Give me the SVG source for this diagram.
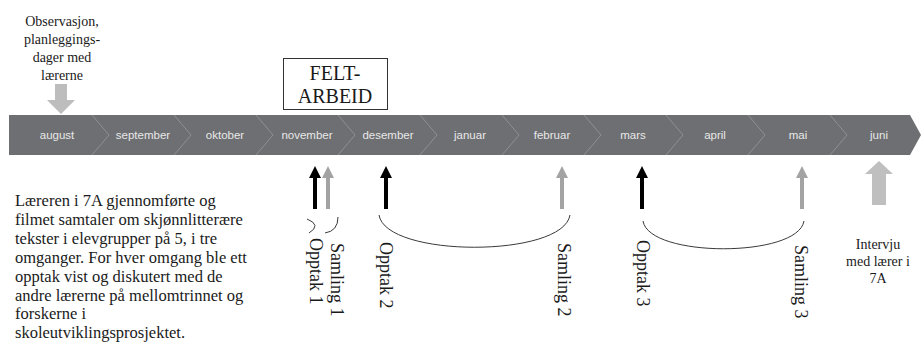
<svg xmlns="http://www.w3.org/2000/svg" xmlns:xlink="http://www.w3.org/1999/xlink" width="921" height="344" viewBox="0 0 921 344">
<style>
.serif{font-family:"Liberation Serif","Times New Roman",serif;fill:#1a1a1a}
.month{font-family:"Liberation Sans",Arial,sans-serif;font-size:11.5px;fill:#e8e8e8;text-anchor:middle}
.sep{fill:none;stroke:#8f9093;stroke-width:1}
.arc{fill:none;stroke:#3a3a3a;stroke-width:1}
.rot{font-size:18px}
</style>
<defs>
<polygon id="thin" points="0,0 6,12 2,12 2,43 -2,43 -2,12 -6,12"/>
</defs>
<rect width="921" height="344" fill="#ffffff"/>

<g id="timeline">
<polygon points="9,115 910,115 921,135 910,155 9,155" fill="#6e6f72"/>
<polyline class="sep" points="92,115 109,135 92,155"/>
<polyline class="sep" points="174,115 191,135 174,155"/>
<polyline class="sep" points="256,115 273,135 256,155"/>
<polyline class="sep" points="338,115 355,135 338,155"/>
<polyline class="sep" points="420,115 437,135 420,155"/>
<polyline class="sep" points="502,115 519,135 502,155"/>
<polyline class="sep" points="584,115 601,135 584,155"/>
<polyline class="sep" points="666,115 683,135 666,155"/>
<polyline class="sep" points="748,115 765,135 748,155"/>
<polyline class="sep" points="830,115 847,135 830,155"/>
<text class="month" x="57" y="139">august</text>
<text class="month" x="143" y="139">september</text>
<text class="month" x="225" y="139">oktober</text>
<text class="month" x="307" y="139">november</text>
<text class="month" x="388" y="139">desember</text>
<text class="month" x="470" y="139">januar</text>
<text class="month" x="552" y="139">februar</text>
<text class="month" x="633" y="139">mars</text>
<text class="month" x="715" y="139">april</text>
<text class="month" x="798" y="139">mai</text>
<text class="month" x="879" y="139">juni</text>
</g>

<g id="observasjon">
<text class="serif" font-size="14" text-anchor="middle"><tspan x="62" y="26">Observasjon,</tspan><tspan x="62" y="44">planleggings-</tspan><tspan x="62" y="62">dager med</tspan><tspan x="62" y="80">lærerne</tspan></text>
<polygon points="55,84 67,84 67,100 75,100 61,114 47,100 55,100" fill="#bdbdbd"/>
</g>

<g id="feltarbeid">
<rect x="283.500" y="58.500" width="104" height="51" fill="#ffffff" stroke="#333" stroke-width="1"/>
<text class="serif" font-size="20" text-anchor="middle"><tspan x="335" y="80">FELT-</tspan><tspan x="335" y="103">ARBEID</tspan></text>
</g>

<g id="beskrivelse">
<text class="serif" font-size="16.5"><tspan x="15" y="206">Læreren i 7A gjennomførte og</tspan><tspan x="15" y="225">filmet samtaler om skjønnlitterære</tspan><tspan x="15" y="244">tekster i elevgrupper på 5, i tre</tspan><tspan x="15" y="263">omganger. For hver omgang ble ett</tspan><tspan x="15" y="282">opptak vist og diskutert med de</tspan><tspan x="15" y="301">andre lærerne på mellomtrinnet og</tspan><tspan x="15" y="319">forskerne i</tspan><tspan x="15" y="338">skoleutviklingsprosjektet.</tspan></text>
</g>

<g id="connectors">
<use xlink:href="#thin" x="315" y="166" fill="#000000"/>
<use xlink:href="#thin" x="328" y="166" fill="#a3a3a3"/>
<use xlink:href="#thin" x="386" y="166" fill="#000000"/>
<use xlink:href="#thin" x="562" y="166" fill="#a3a3a3"/>
<use xlink:href="#thin" x="642" y="166" fill="#000000"/>
<use xlink:href="#thin" x="802" y="166" fill="#a3a3a3"/>
<path class="arc" d="M307,219 Q322,225 309,233"/>
<path class="arc" d="M325,233 Q338,231 338,217"/>
<path class="arc" d="M379,215 C386,258 563,258 570,215"/>
<path class="arc" d="M643,221 C649,258 798,258 804,221"/>
</g>

<g id="opptak1"><text class="serif rot" transform="translate(310,238) rotate(90)">Opptak 1</text></g>
<g id="samling1"><text class="serif rot" transform="translate(331,243) rotate(90)">Samling 1</text></g>
<g id="opptak2"><text class="serif rot" transform="translate(380,242) rotate(90)">Opptak 2</text></g>
<g id="samling2"><text class="serif rot" transform="translate(558,243) rotate(90)">Samling 2</text></g>
<g id="opptak3"><text class="serif rot" transform="translate(637,240) rotate(90)">Opptak 3</text></g>
<g id="samling3"><text class="serif rot" transform="translate(795,245) rotate(90)">Samling 3</text></g>

<g id="intervju">
<polygon points="879,161 893,174 886,174 886,205 872,205 872,174 865,174" fill="#bfbfbf"/>
<text class="serif" font-size="14" text-anchor="middle"><tspan x="878" y="249">Intervju</tspan><tspan x="878" y="266">med lærer i</tspan><tspan x="878" y="283">7A</tspan></text>
</g>
</svg>
